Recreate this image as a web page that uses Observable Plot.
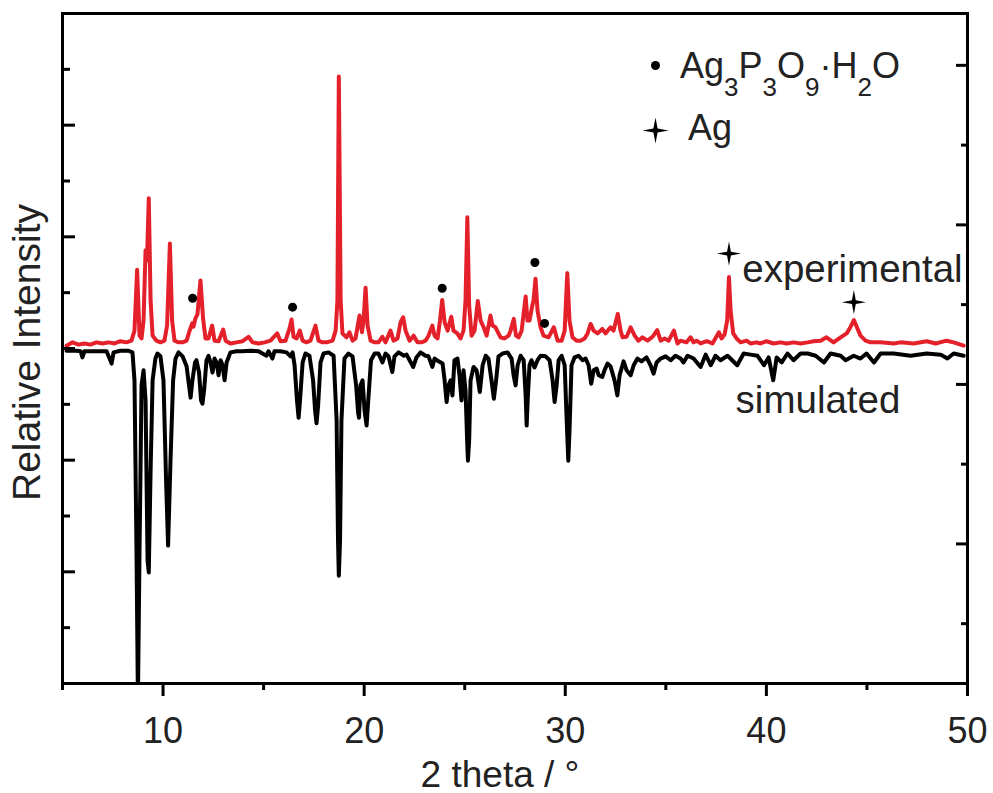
<!DOCTYPE html>
<html>
<head>
<meta charset="utf-8">
<script src="https://cdn.jsdelivr.net/npm/d3@7"></script>
<script src="https://cdn.jsdelivr.net/npm/@observablehq/plot@0.6"></script>
<style>
  body { margin: 0; background: #fff; }
  #chart svg { display: block; }
</style>
</head>
<body>
<div id="chart"></div>
<script>
// ---- data (2θ in degrees, relative intensity in arbitrary units) ----
const experimental = [
  [5.20,0.05],[5.50,0.11],[5.80,0.07],[6.09,0.09],[6.39,0.07],[6.69,0.11],[6.99,0.09],[7.29,0.11],[7.59,0.09],[7.88,0.13],
  [8.18,0.11],[8.43,0.14],[8.58,0.32],[8.71,1.41],[8.83,0.23],[8.93,0.18],[9.03,0.50],[9.13,1.76],[9.20,1.58],[9.29,2.69],
  [9.38,0.86],[9.48,0.23],[9.67,0.14],[9.87,0.11],[10.07,0.14],[10.20,0.41],[10.34,1.88],[10.45,0.50],[10.57,0.14],[10.77,0.11],
  [10.97,0.11],[11.17,0.14],[11.32,0.32],[11.45,0.45],[11.51,0.39],[11.61,0.54],[11.71,0.61],[11.86,1.22],[11.99,0.54],[12.11,0.18],
  [12.26,0.18],[12.44,0.41],[12.56,0.14],[12.76,0.13],[12.99,0.34],[13.11,0.14],[13.35,0.09],[13.65,0.11],[13.95,0.13],[14.25,0.21],
  [14.45,0.11],[14.75,0.09],[15.05,0.11],[15.34,0.14],[15.68,0.27],[15.84,0.13],[16.09,0.14],[16.29,0.36],[16.39,0.52],[16.49,0.21],
  [16.64,0.18],[16.80,0.32],[16.94,0.14],[17.13,0.11],[17.33,0.14],[17.58,0.41],[17.73,0.14],[17.93,0.11],[18.13,0.11],[18.43,0.14],
  [18.58,0.32],[18.67,0.86],[18.74,4.87],[18.83,0.86],[18.92,0.27],[19.12,0.20],[19.27,0.29],[19.42,0.14],[19.57,0.18],[19.77,0.59],
  [19.89,0.29],[19.97,0.50],[20.07,1.09],[20.17,0.41],[20.32,0.14],[20.52,0.11],[20.71,0.11],[20.90,0.21],[21.06,0.11],[21.31,0.32],
  [21.46,0.14],[21.66,0.18],[21.81,0.47],[21.94,0.56],[22.06,0.32],[22.26,0.14],[22.46,0.23],[22.65,0.11],[22.85,0.11],[23.05,0.14],
  [23.20,0.23],[23.39,0.41],[23.50,0.23],[23.65,0.18],[23.77,0.50],[23.88,0.87],[24.00,0.47],[24.15,0.32],[24.33,0.57],[24.44,0.32],
  [24.63,0.27],[24.79,0.18],[24.94,0.32],[25.04,0.86],[25.13,2.35],[25.22,0.77],[25.34,0.23],[25.49,0.32],[25.65,0.85],[25.79,0.50],
  [25.94,0.38],[26.09,0.23],[26.28,0.59],[26.38,0.41],[26.53,0.38],[26.78,0.20],[26.98,0.18],[27.18,0.23],[27.28,0.32],[27.44,0.53],
  [27.55,0.23],[27.68,0.20],[27.83,0.32],[28.03,0.93],[28.12,0.50],[28.22,0.50],[28.36,0.77],[28.42,0.86],[28.52,1.25],[28.62,0.68],
  [28.77,0.38],[28.92,0.23],[29.17,0.20],[29.43,0.38],[29.62,0.14],[29.82,0.14],[29.97,0.32],[30.10,1.35],[30.21,0.50],[30.36,0.20],
  [30.56,0.14],[30.76,0.14],[30.96,0.18],[31.11,0.27],[31.26,0.44],[31.41,0.32],[31.61,0.27],[31.84,0.35],[32.00,0.27],[32.25,0.38],
  [32.40,0.32],[32.61,0.62],[32.75,0.32],[32.85,0.20],[33.05,0.21],[33.25,0.38],[33.45,0.23],[33.64,0.14],[33.84,0.20],[34.09,0.14],
  [34.34,0.21],[34.57,0.33],[34.74,0.14],[34.94,0.18],[35.14,0.14],[35.40,0.32],[35.58,0.09],[35.73,0.14],[36.03,0.11],[36.23,0.20],
  [36.38,0.11],[36.53,0.14],[36.73,0.09],[37.03,0.13],[37.32,0.09],[37.64,0.29],[37.77,0.18],[37.92,0.25],[38.05,0.50],[38.14,1.28],
  [38.22,0.68],[38.35,0.27],[38.52,0.18],[38.72,0.11],[39.01,0.14],[39.21,0.09],[39.51,0.11],[39.71,0.09],[40.01,0.13],[40.36,0.09],
  [40.71,0.11],[41.01,0.09],[41.35,0.11],[41.70,0.09],[42.05,0.11],[42.35,0.13],[42.70,0.14],[42.99,0.20],[43.34,0.11],[43.69,0.20],
  [43.99,0.27],[44.19,0.39],[44.35,0.51],[44.49,0.39],[44.68,0.23],[44.93,0.14],[45.18,0.11],[45.68,0.11],[46.33,0.09],[46.67,0.11],
  [47.32,0.09],[47.97,0.13],[48.42,0.09],[48.96,0.14],[49.31,0.11],[49.81,0.05]
];

const simulated = [
  [5.20,-0.04],[5.70,-0.04],[5.90,-0.05],[5.99,-0.16],[6.09,-0.05],[6.64,-0.05],[7.19,-0.05],[7.34,-0.18],[7.44,-0.27],[7.54,-0.07],
  [7.88,-0.04],[8.28,-0.04],[8.48,-0.07],[8.58,-0.57],[8.68,-3.62],[8.75,-6.30],[8.83,-3.62],[8.93,-0.66],[9.03,-0.39],[9.13,-0.93],
  [9.23,-3.80],[9.29,-4.01],[9.38,-2.19],[9.48,-0.57],[9.62,-0.18],[9.72,-0.09],[9.87,-0.14],[10.02,-0.57],[10.15,-2.36],[10.25,-3.53],
  [10.37,-2.01],[10.50,-0.57],[10.62,-0.18],[10.77,-0.07],[10.97,-0.14],[11.17,-0.32],[11.29,-0.66],[11.37,-0.88],[11.46,-0.57],[11.59,-0.25],
  [11.66,-0.21],[11.79,-0.43],[11.89,-0.93],[11.96,-0.99],[12.04,-0.75],[12.16,-0.21],[12.26,-0.13],[12.36,-0.25],[12.46,-0.43],[12.56,-0.18],
  [12.66,-0.25],[12.76,-0.48],[12.86,-0.21],[12.96,-0.30],[13.06,-0.57],[13.16,-0.25],[13.35,-0.07],[13.65,-0.05],[13.95,-0.05],[14.35,-0.04],
  [14.75,-0.05],[15.05,-0.11],[15.14,-0.13],[15.24,-0.05],[15.44,-0.18],[15.54,-0.05],[15.84,-0.05],[16.14,-0.07],[16.34,-0.14],[16.44,-0.07],
  [16.54,-0.30],[16.66,-0.93],[16.74,-1.24],[16.81,-0.93],[16.94,-0.25],[17.08,-0.09],[17.28,-0.13],[17.46,-0.57],[17.56,-1.11],[17.63,-1.34],
  [17.71,-1.02],[17.83,-0.25],[17.98,-0.09],[18.23,-0.07],[18.48,-0.13],[18.63,-1.29],[18.70,-3.44],[18.74,-4.07],[18.80,-3.44],[18.87,-1.29],
  [19.02,-0.18],[19.22,-0.09],[19.42,-0.14],[19.60,-0.66],[19.70,-1.15],[19.74,-1.24],[19.82,-0.66],[19.92,-0.57],[20.02,-1.11],[20.12,-1.38],
  [20.22,-0.84],[20.34,-0.21],[20.52,-0.09],[20.71,-0.09],[20.91,-0.25],[21.06,-0.09],[21.21,-0.14],[21.40,-0.42],[21.51,-0.14],[21.71,-0.07],
  [21.98,-0.13],[22.11,-0.11],[22.26,-0.21],[22.44,-0.33],[22.60,-0.16],[22.80,-0.07],[23.05,-0.13],[23.20,-0.14],[23.39,-0.33],[23.50,-0.18],
  [23.70,-0.23],[23.90,-0.27],[24.00,-0.57],[24.10,-0.96],[24.20,-0.66],[24.30,-0.57],[24.39,-0.84],[24.49,-0.21],[24.64,-0.18],[24.74,-0.48],
  [24.84,-0.93],[24.94,-0.39],[25.04,-0.75],[25.12,-1.65],[25.16,-2.01],[25.22,-1.65],[25.29,-0.57],[25.44,-0.33],[25.59,-0.39],[25.75,-0.78],
  [25.89,-0.30],[26.04,-0.13],[26.18,-0.18],[26.33,-0.57],[26.45,-0.90],[26.56,-0.57],[26.68,-0.14],[26.88,-0.09],[27.13,-0.07],[27.33,-0.18],
  [27.43,-0.48],[27.53,-0.66],[27.63,-0.30],[27.78,-0.13],[27.93,-0.21],[28.03,-0.84],[28.08,-1.38],[28.13,-0.93],[28.22,-0.30],[28.32,-0.21],
  [28.47,-0.34],[28.62,-0.21],[28.77,-0.13],[29.02,-0.14],[29.22,-0.21],[29.37,-0.57],[29.47,-0.96],[29.57,-0.66],[29.67,-0.21],[29.82,-0.13],
  [29.97,-0.30],[30.09,-1.47],[30.15,-2.01],[30.21,-1.47],[30.31,-0.30],[30.46,-0.16],[30.66,-0.13],[30.86,-0.21],[31.01,-0.18],[31.16,-0.30],
  [31.29,-0.63],[31.41,-0.39],[31.56,-0.36],[31.66,-0.48],[31.84,-0.51],[31.95,-0.39],[32.10,-0.27],[32.25,-0.32],[32.45,-0.57],[32.59,-0.84],
  [32.70,-0.48],[32.90,-0.23],[33.05,-0.39],[33.25,-0.48],[33.40,-0.30],[33.59,-0.18],[33.79,-0.23],[34.04,-0.16],[34.24,-0.30],[34.39,-0.45],
  [34.54,-0.25],[34.74,-0.18],[34.99,-0.14],[35.24,-0.21],[35.48,-0.13],[35.73,-0.18],[35.88,-0.25],[36.08,-0.13],[36.38,-0.18],[36.73,-0.33],
  [36.98,-0.11],[37.23,-0.30],[37.47,-0.13],[37.72,-0.21],[38.07,-0.13],[38.55,-0.30],[38.87,-0.09],[39.21,-0.11],[39.56,-0.13],[39.88,-0.30],
  [40.11,-0.16],[40.34,-0.57],[40.51,-0.16],[40.76,-0.25],[41.05,-0.09],[41.35,-0.21],[41.70,-0.09],[42.05,-0.09],[42.45,-0.13],[42.86,-0.25],
  [43.19,-0.09],[43.69,-0.13],[43.94,-0.21],[44.34,-0.13],[44.68,-0.18],[44.98,-0.09],[45.35,-0.25],[45.68,-0.09],[46.33,-0.09],[47.17,-0.13],
  [47.97,-0.09],[48.67,-0.11],[49.00,-0.18],[49.31,-0.09],[49.81,-0.13]
];

// peak markers
const phaseMarkers = [[11.47,0.90],[16.44,0.74],[23.88,1.08],[28.49,1.54],[28.97,0.45]]; // Ag3P3O9·H2O
const agMarkers = [[38.14,1.70],[44.35,0.83]];                                         // Ag

const curveLabels = [
  {x: 38.80, y: 1.20, text: "experimental"},
  {x: 38.47, y: -1.16, text: "simulated"}
];

// axes
const xDomain = [5, 50];
const xMajorTicks = [10, 20, 30, 40, 50];
const xMinorTicks = [5, 15, 25, 35, 45];
const yDomain = [-6, 6];
const yMajorTicks = [-4, -2, 0, 2, 4];
const yMinorTicks = [-5, -3, -1, 1, 3, 5];
const rightDomain = [-0.75, 7.65];
const rightMajorTicks = [1, 3, 5, 7];
const rightMinorTicks = [0, 2, 4, 6];

const xLabel = "2 theta / °";
const yLabel = "Relative Intensity";
const legendItems = ["Ag3P3O9·H2O", "Ag"];

// ---- rendering ----
const RED = "#e4202a";
const FONT = "'Liberation Sans', Arial, Helvetica, sans-serif";
const toLeft = r => yDomain[0] + (r - rightDomain[0]) / (rightDomain[1] - rightDomain[0]) * (yDomain[1] - yDomain[0]);

const star4 = {
  draw(ctx, size) {
    const r = Math.sqrt(size), w = r * 0.16;
    ctx.moveTo(0, -r); ctx.lineTo(w, -w); ctx.lineTo(r, 0); ctx.lineTo(w, w);
    ctx.lineTo(0, r); ctx.lineTo(-w, w); ctx.lineTo(-r, 0); ctx.lineTo(-w, -w); ctx.closePath();
  }
};

const blank = () => "";

const plot = Plot.plot({
  width: 993,
  height: 793,
  marginLeft: 62,
  marginRight: 26,
  marginTop: 13,
  marginBottom: 110,
  x: {domain: xDomain},
  y: {domain: yDomain},
  style: {fontFamily: FONT, background: "#fff", color: "#000", overflow: "visible"},
  marks: [
    Plot.line(simulated, {x: d => d[0], y: d => d[1], stroke: "#000", strokeWidth: 4, clip: true, strokeLinejoin: "round"}),
    Plot.line(experimental, {x: d => d[0], y: d => d[1], stroke: RED, strokeWidth: 4, clip: true, strokeLinejoin: "round"}),
    Plot.dot(phaseMarkers, {x: d => d[0], y: d => d[1], r: 4.5, fill: "#000", stroke: null}),
    Plot.dot(agMarkers, {x: d => d[0], y: d => d[1], symbol: star4, r: 6.8, fill: "#000", stroke: null}),
    Plot.text(curveLabels, {x: "x", y: "y", text: "text", textAnchor: "start", lineAnchor: "bottom", fontSize: 38.5, fill: "#222"}),
    Plot.frame({stroke: "#000", strokeWidth: 3}),
    Plot.axisX(xMajorTicks, {anchor: "bottom", tickSize: 13, tickPadding: 21, fontSize: 36, strokeWidth: 3, fill: "#222", label: null, tickFormat: d => String(d)}),
    Plot.axisX(xMinorTicks, {anchor: "bottom", tickSize: 7, strokeWidth: 3, label: null, tickFormat: blank}),
    Plot.axisY(yMajorTicks, {anchor: "left", tickSize: -13, strokeWidth: 3, label: null, tickFormat: blank}),
    Plot.axisY(yMinorTicks, {anchor: "left", tickSize: -8, strokeWidth: 3, label: null, tickFormat: blank}),
    Plot.axisY(rightMajorTicks.map(toLeft), {anchor: "right", tickSize: -12, strokeWidth: 3, label: null, tickFormat: blank}),
    Plot.axisY(rightMinorTicks.map(toLeft), {anchor: "right", tickSize: -7, strokeWidth: 3, label: null, tickFormat: blank}),
    Plot.text([yLabel], {text: d => d, frameAnchor: "left", textAnchor: "middle", rotate: -90, dx: -23, dy: 4, lineAnchor: "bottom", fontSize: 39, fill: "#222"}),
    Plot.text([xLabel], {text: d => d, frameAnchor: "bottom", textAnchor: "middle", dx: -15, dy: 103, lineAnchor: "bottom", fontSize: 37, fill: "#222"}),
    // legend symbols
    Plot.dot([legendItems[0]], {frameAnchor: "top-left", dx: 593, dy: 52, r: 4.5, fill: "#000", stroke: null}),
    Plot.dot([legendItems[1]], {frameAnchor: "top-left", dx: 593, dy: 117, symbol: star4, r: 7.4, fill: "#000", stroke: null})
  ]
});

document.getElementById("chart").appendChild(plot);

// legend text with real subscripts
(function () {
  const svg = d3.select(plot);
  const g = svg.append("g").attr("font-family", FONT).attr("fill", "#222").attr("text-anchor", "start");
  const ML = 62, MT = 13;
  function addFormula(str, x, y, size) {
    const t = g.append("text").attr("x", x).attr("y", y).attr("font-size", size).attr("text-anchor", "start");
    let prevSub = false;
    const parts = str.match(/[A-Za-z·]+|\d+/g);
    const shift = Math.round(size * 0.5);
    for (const p of parts) {
      const isSub = /^\d+$/.test(p);
      const ts = t.append("tspan").text(p);
      if (isSub) {
        ts.attr("font-size", Math.round(size * 0.72));
        if (!prevSub) ts.attr("dy", shift);
      } else if (prevSub) {
        ts.attr("dy", -shift);
      }
      prevSub = isSub;
    }
  }
  addFormula(legendItems[0], ML + 618, MT + 65, 36);
  addFormula(legendItems[1], ML + 626, MT + 127, 36);
})();
</script>
</body>
</html>
